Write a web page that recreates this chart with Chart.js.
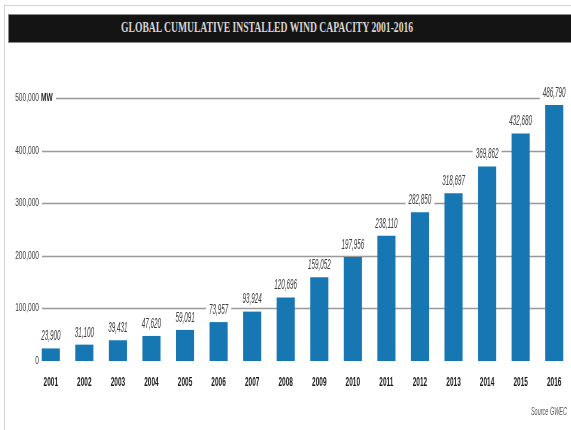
<!DOCTYPE html>
<html>
<head>
<meta charset="utf-8">
<script src="https://cdn.jsdelivr.net/npm/chart.js@4"></script>
<style>
  html, body { margin: 0; padding: 0; background: #fff; }
  #wrap { position: relative; width: 571px; height: 430px; overflow: hidden; }
  #frame { position: absolute; left: 4px; top: 5px; right: -2px; bottom: -2px; border-left: 1px solid #d4d4d4; border-top: 1px solid #d4d4d4; }
  #titlebar {
    position: absolute; left: 8px; top: 14px; width: 570px; height: 29px;
    background: #141414; border: 1px solid #8a8a8a; box-sizing: border-box;
  }
  #titlebar span {
    position: absolute; left: 112px; top: 5px;
    color: #d6d6d6; font: bold 14px "Liberation Serif", "DejaVu Serif", serif;
    transform-origin: left center; white-space: nowrap;
  }
  canvas { position: absolute; left: 0; top: 0; }
</style>
</head>
<body>
<div id="wrap">
  <div id="frame"></div>
  <div id="titlebar"><span id="title">GLOBAL CUMULATIVE INSTALLED WIND CAPACITY 2001-2016</span></div>
  <canvas id="chart" width="571" height="430"></canvas>
</div>
<script>
const years = ['2001', '2002', '2003', '2004', '2005', '2006', '2007', '2008',
               '2009', '2010', '2011', '2012', '2013', '2014', '2015', '2016'];
const capacityMW = [23900, 31100, 39431, 47620, 59091, 73957, 93924, 120696,
                    159052, 197956, 238110, 282850, 318697, 369862, 432680, 486790];
const yTicks = [0, 100000, 200000, 300000, 400000, 500000];

// squeeze the title to the width it has in the print
const titleEl = document.getElementById('title');
titleEl.style.transform = 'scaleX(' + (292 / titleEl.offsetWidth) + ')';

const sans = '"Liberation Sans", Arial, sans-serif';

// condensed text: the source uses a narrow typeface
function narrowText(ctx, text, x, y, font, color, squeeze, align) {
    ctx.save();
    ctx.font = font;
    ctx.fillStyle = color;
    ctx.textAlign = align || 'center';
    ctx.textBaseline = 'middle';
    ctx.translate(x, y);
    ctx.scale(squeeze, 1);
    ctx.fillText(text, 0, 0);
    ctx.restore();
}

const decorations = {
    id: 'decorations',
    beforeDatasetsDraw(chart) {
        const { ctx, scales: { y } } = chart;
        ctx.save();
        ctx.strokeStyle = '#999';
        ctx.lineWidth = 1.3;
        y.ticks.forEach(t => {
            if (t.value === 0) return;
            const py = Math.round(y.getPixelForValue(t.value)) + 0.5;
            ctx.beginPath();
            ctx.moveTo(t.value === 500000 ? 56 : 42, py);
            ctx.lineTo(546, py);
            ctx.stroke();
        });
        ctx.restore();
    },
    afterDatasetsDraw(chart) {
        const { ctx, scales: { x, y } } = chart;
        const meta = chart.getDatasetMeta(0);

        // value labels on white patches that break the grid lines
        meta.data.forEach((bar, i) => {
            const text = capacityMW[i].toLocaleString('en-US');
            const cy = bar.y - 12;
            const font = 'italic 14px ' + sans;
            ctx.font = font;
            const w = ctx.measureText(text).width * 0.45;
            ctx.fillStyle = '#fff';
            ctx.fillRect(bar.x - w / 2 - 3, cy - 7, w + 6, 14);
            narrowText(ctx, text, bar.x, cy, font, '#3c3c3c', 0.45);
        });

        // y tick labels
        y.ticks.forEach(t => {
            narrowText(ctx, t.value.toLocaleString('en-US'), 39, y.getPixelForValue(t.value),
                '11px ' + sans, '#3a3a3a', 0.6, 'right');
        });
        narrowText(ctx, 'MW', 41, y.getPixelForValue(500000), 'bold 11px ' + sans, '#222', 0.6, 'left');

        // x tick labels
        x.ticks.forEach((t, i) => {
            narrowText(ctx, years[t.value], x.getPixelForTick(i), 382,
                'bold 13px ' + sans, '#1a1a1a', 0.5);
        });

        narrowText(ctx, 'Source GWEC', 567, 412, 'italic 10px ' + sans, '#555', 0.55, 'right');
    }
};

new Chart(document.getElementById('chart'), {
    type: 'bar',
    data: {
        labels: years,
        datasets: [{
            data: capacityMW,
            backgroundColor: '#1677b3',
            borderWidth: 0,
            categoryPercentage: 1,
            barPercentage: 0.54
        }]
    },
    options: {
        responsive: false,
        animation: false,
        layout: { padding: { top: 98, left: 0, right: 0, bottom: 0 } },
        plugins: { legend: { display: false }, tooltip: { enabled: false } },
        scales: {
            x: {
                grid: { display: false },
                border: { display: false },
                ticks: { display: false },
                afterFit: scale => { scale.height = 69; }
            },
            y: {
                min: 0,
                max: 500000,
                afterBuildTicks: scale => { scale.ticks = yTicks.map(v => ({ value: v })); },
                grid: { display: false },
                border: { display: false },
                ticks: { display: false },
                afterFit: scale => { scale.width = 34; }
            }
        }
    },
    plugins: [decorations]
});
</script>
</body>
</html>
